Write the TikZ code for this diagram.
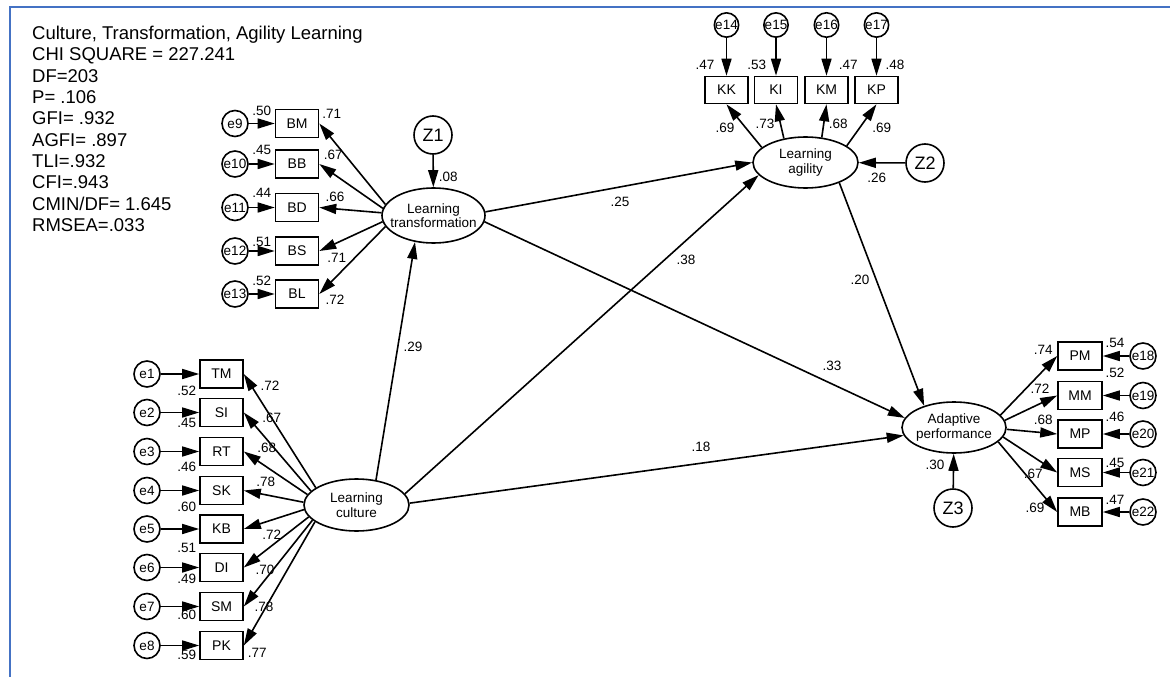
\documentclass[tikz,border=0pt]{standalone}
\usepackage{fontspec}
\setmainfont{Liberation Sans}
\usetikzlibrary{arrows.meta,shapes.geometric}
\definecolor{framecol}{RGB}{68,114,196}
\begin{document}
\begin{tikzpicture}[x=1pt,y=-1pt,
  arr/.style={-{Triangle[length=17pt,width=10pt]}, line width=1.6pt},
  box/.style={draw, line width=1.6pt, minimum width=43pt, minimum height=28pt, inner sep=0pt, font=\fontsize{14}{15}\selectfont},
  err/.style={draw, circle, line width=1.6pt, minimum size=26pt, inner sep=0pt, font=\fontsize{13.5}{15}\selectfont},
  dist/.style={draw, circle, line width=1.6pt, minimum size=38pt, inner sep=0pt, font=\fontsize{18}{19}\selectfont},
  lat/.style={draw, ellipse, line width=1.6pt, minimum width=104pt, minimum height=52pt, inner sep=0pt},
  ltxt/.style={align=center, font=\fontsize{13.5}{14.5}\selectfont, inner sep=0pt},
  lab/.style={inner sep=0pt, font=\fontsize{13.5}{15}\selectfont},
  stat/.style={inner sep=0pt, anchor=base west, font=\fontsize{18.5}{21}\selectfont},
]
\useasboundingbox (0,0) rectangle (1170,677);
\draw[framecol, line width=2pt] (9.5,677) -- (9.5,7) -- (1170,7);

% fit statistics
\node[stat] (s1) at (32,39.5) {Culture, Transformation, Agility Learning};
\node[stat] (s2) at (32,60.85) {CHI SQUARE = 227.241};
\node[stat] (s3) at (32,82.2) {DF=203};
\node[stat] (s4) at (32,103.55) {P= .106};
\node[stat] (s5) at (32,124.9) {GFI= .932};
\node[stat] (s6) at (32,146.25) {AGFI= .897};
\node[stat] (s7) at (32,167.6) {TLI=.932};
\node[stat] (s8) at (32,188.95) {CFI=.943};
\node[stat] (s9) at (32,210.3) {CMIN/DF= 1.645};
\node[stat] (s10) at (32,231.65) {RMSEA=.033};

% latent variables
\node[lat, minimum width=103pt, minimum height=55pt, label={[ltxt]center:{Learning\\transformation}}] (lt) at (433.5,215.5) {};
\node[lat, minimum width=105pt, minimum height=51pt, label={[ltxt]center:{Learning\\agility}}] (la) at (805.5,162.5) {};
\node[lat, minimum width=104pt, minimum height=51pt, label={[ltxt]center:{Adaptive\\performance}}] (ap) at (954,427.5) {};
\node[lat, minimum width=105pt, minimum height=52pt, label={[ltxt]center:{Learning\\culture}}] (lc) at (356.5,505) {};

% disturbances
\node[dist] (z1) at (433,135) {Z1};
\node[dist] (z2) at (925,163) {Z2};
\node[dist] (z3) at (953,508) {Z3};
\draw[arr] (z1) -- (lt);
\draw[arr] (z2) -- (la);
\draw[arr] (z3) -- (ap);

% transformation indicators
\foreach \n/\y [count=\i] in {BM/123.5,BB/164,BD/207.5,BS/251,BL/294}{
  \pgfmathtruncatemacro\k{\i+8}
  \node[box] (\n) at (297,\y) {\n};
  \node[err] (e\k) at (235,\y) {e\k};
  \draw[arr] (e\k) -- (\n);
}
\foreach \n/\a in {BM/167,BB/172,BD/177,BS/187,BL/193}
  \draw[arr] (lt.\a) -- (\n.east);

% agility indicators
\foreach \n/\x [count=\i] in {KK/726.5,KI/776,KM/826.5,KP/876.5}{
  \pgfmathtruncatemacro\k{\i+13}
  \node[box, minimum height=27pt] (\n) at (\x,90) {\n};
  \node[err, minimum size=24pt] (e\k) at (\x,25) {e\k};
  \draw[arr] (e\k) -- (\n);
}
\foreach \n/\a in {KK/161,KI/132,KM/57,KP/22}
  \draw[arr] (la.\a) -- (\n.south);

% adaptive performance indicators
\foreach \n/\y [count=\i] in {PM/356,MM/395.5,MP/434,MS/472.5,MB/512}{
  \pgfmathtruncatemacro\k{\i+17}
  \node[box, minimum width=44pt] (\n) at (1080,\y) {\n};
  \node[err] (e\k) at (1143,\y) {e\k};
  \draw[arr] (e\k) -- (\n);
}
\foreach \n/\a in {PM/15,MM/8,MP/-2,MS/-11,MB/-18}
  \draw[arr] (ap.\a) -- (\n.west);

% culture indicators
\foreach \n/\y [count=\i] in {TM/374,SI/412.5,RT/451.5,SK/490.5,KB/529,DI/567.5,SM/606.5,PK/645.5}{
  \node[box] (\n) at (221.5,\y) {\n};
  \node[err] (e\i) at (147,\y) {e\i};
  \draw[arr] (e\i) -- (\n);
}
\foreach \n/\a in {TM/157,SI/163,RT/168,SK/177,KB/185,DI/194,SM/199,PK/202}
  \draw[arr] (lc.\a) -- (\n.east);

% structural paths
\draw[arr] (lc.52) -- (lt.-125);
\draw[arr] (lt.4) -- (la.180);
\draw[arr] (lt.-7) -- (ap.169);
\draw[arr] (lc.13) -- (la.-165);
\draw[arr] (lc.2) -- (ap.-171);
\draw[arr] (la.-31) -- (ap.144);

% coefficient labels
\foreach \x/\y/\t [count=\i] in {
  261.7/110.7/.50, 331.7/114/.71, 261.7/150/.45, 333.3/155/.67,
  261.7/193.3/.44, 335/196.7/.66, 261.7/241.7/.51, 336.7/258.3/.71,
  261.7/280.7/.52, 335/300/.72, 448.3/177.3/.08,
  705/65/.47, 756.7/65/.53, 848.3/65/.47, 895/65/.48,
  725/128.3/.69, 765/124/.73, 838.3/124/.68, 881.7/128.3/.69, 876.7/178.3/.26,
  1043.3/350/.74, 1115/342.7/.54, 1040/388.3/.72, 1115/372.7/.52,
  1043.3/420/.68, 1115/416.7/.46, 1033.3/474/.67, 1115/462.7/.45,
  1035/508.3/.69, 1115/500/.47, 935/465/.30,
  186.7/390.7/.52, 270/386/.72, 186.7/423.3/.45, 271.7/418.3/.67,
  186.7/467.3/.46, 266.7/448.3/.68, 186.7/507.3/.60, 265.7/481.7/.78,
  186.7/548.3/.51, 271.7/535/.72, 186.7/579.3/.49, 265/570/.70,
  186.7/615/.60, 264/606.7/.78, 186.7/655/.59, 257.3/653.3/.77,
  620/202/.25, 832/366/.33, 413/347/.29, 686/260/.38, 701/447/.18, 860/280/.20}
  \node[lab] (c\i) at (\x,\y) {\t};
\end{tikzpicture}
\end{document}
